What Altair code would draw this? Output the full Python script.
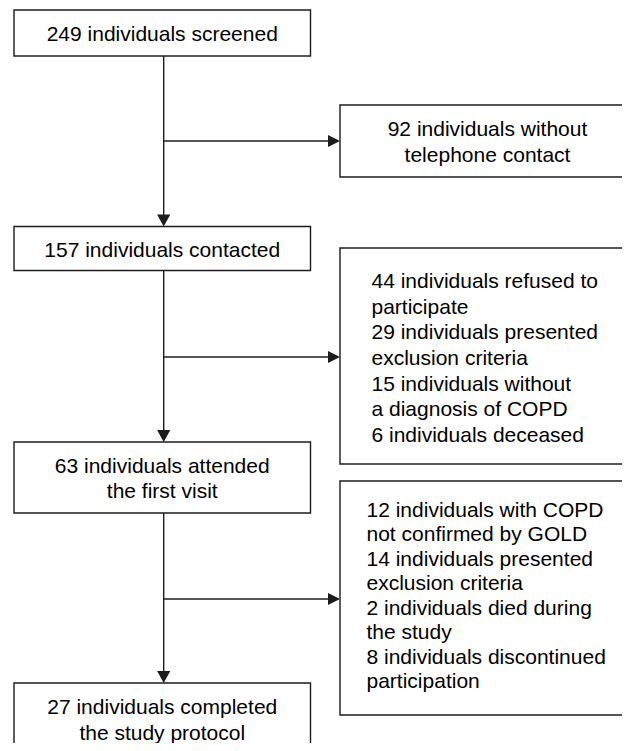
import altair as alt
import pandas as pd

# ---- content -------------------------------------------------------------
main_steps = [
    "249 individuals screened",
    "157 individuals contacted",
    "63 individuals attended\nthe first visit",
    "27 individuals completed\nthe study protocol",
]
exclusion_notes = [
    "92 individuals without\ntelephone contact",
    "44 individuals refused to\nparticipate\n29 individuals presented\nexclusion criteria\n"
    "15 individuals without\na diagnosis of COPD\n6 individuals deceased",
    "12 individuals with COPD\nnot confirmed by GOLD\n14 individuals presented\n"
    "exclusion criteria\n2 individuals died during\nthe study\n8 individuals discontinued\nparticipation",
]

# ---- layout (diagram coordinates) ---------------------------------------
main_box_x = (14, 310.5)
main_box_y = [(10, 56), (226.5, 270.5), (442, 513), (683, 780)]
main_baselines = [40.5, 256.5, 473.3, 714.3]
main_line_h = [25, 25, 25, 25.7]
side_box_x = (340, 680)
side_box_y = [(105, 177), (248, 464), (481, 715)]
side_text_x = [487.5, 371.5, 366.5]
side_align = ["center", "left", "left"]
side_baselines = [136, 288.3, 516.7]
side_line_h = [25.7, 25.57, 24.5]
branch_y = [141, 357, 599]
trunk_x = 163.7
ARROW = 12

# ---- build tables ---------------------------------------------------------
boxes = []
texts = []
for i, s in enumerate(main_steps):
    y0, y1 = main_box_y[i]
    boxes.append(dict(x=main_box_x[0], x2=main_box_x[1], y=y0, y2=y1))
    cx = (main_box_x[0] + main_box_x[1]) / 2
    for j, line in enumerate(s.split("\n")):
        texts.append(dict(x=cx, y=main_baselines[i] + j * main_line_h[i], t=line, a="center"))
for i, s in enumerate(exclusion_notes):
    y0, y1 = side_box_y[i]
    boxes.append(dict(x=side_box_x[0], x2=side_box_x[1], y=y0, y2=y1))
    for j, line in enumerate(s.split("\n")):
        texts.append(dict(x=side_text_x[i], y=side_baselines[i] + j * side_line_h[i],
                          t=line, a=side_align[i]))

segs = []
arrows_down = []
arrows_right = []
for i in range(3):
    top = main_box_y[i][1]
    nxt = main_box_y[i + 1][0]
    segs.append(dict(x=trunk_x, x2=trunk_x, y=top, y2=nxt - ARROW + 1))
    segs.append(dict(x=trunk_x, x2=side_box_x[0] - ARROW + 1, y=branch_y[i], y2=branch_y[i]))
    arrows_down.append(dict(x=trunk_x, y=nxt - ARROW / 2))
    arrows_right.append(dict(x=side_box_x[0] - ARROW / 2, y=branch_y[i]))

boxes = pd.DataFrame(boxes)
texts = pd.DataFrame(texts)
segs = pd.DataFrame(segs)
arrows_down = pd.DataFrame(arrows_down)
arrows_right = pd.DataFrame(arrows_right)

# page margin is 8px, so diagram coordinate 8 sits at the plot origin
xs = alt.Scale(domain=[8, 622], nice=False, zero=False)
ys = alt.Scale(domain=[8, 743], nice=False, zero=False, reverse=True)
X = lambda f: alt.X(f, type="quantitative", scale=xs, axis=None)
Y = lambda f: alt.Y(f, type="quantitative", scale=ys, axis=None)

LINE = "#1c1c1c"

rects = alt.Chart(boxes).mark_rect(fill="white", stroke=LINE, strokeWidth=1.4, clip=True).encode(
    x=X("x"), x2="x2", y=Y("y"), y2="y2"
)
rules = alt.Chart(segs).mark_rule(color=LINE, strokeWidth=1.4).encode(
    x=X("x"), x2="x2", y=Y("y"), y2="y2"
)
down = alt.Chart(arrows_down).mark_point(
    shape="M-1.1,-1L1.1,-1L0,1Z", filled=True, fill=LINE, opacity=1, strokeWidth=0, size=ARROW * ARROW
).encode(x=X("x"), y=Y("y"))
right = alt.Chart(arrows_right).mark_point(
    shape="M-1,-1L1,0L-1,1Z", filled=True, fill=LINE, opacity=1, strokeWidth=0, size=ARROW * ARROW
).encode(x=X("x"), y=Y("y"))

txt_c = alt.Chart(texts[texts.a == "center"]).mark_text(
    font="Liberation Sans", fontSize=21, color="black", align="center", baseline="alphabetic"
).encode(x=X("x"), y=Y("y"), text="t:N")
txt_l = alt.Chart(texts[texts.a == "left"]).mark_text(
    font="Liberation Sans", fontSize=21, color="black", align="left", baseline="alphabetic"
).encode(x=X("x"), y=Y("y"), text="t:N")

chart = alt.layer(rules, rects, down, right, txt_c, txt_l).properties(
    width=614, height=735, autosize=alt.AutoSizeParams(type="none"), padding=0,
    background="white"
).configure_view(stroke=None)

chart.save("out.html", embed_options={"renderer": "svg", "actions": False})
